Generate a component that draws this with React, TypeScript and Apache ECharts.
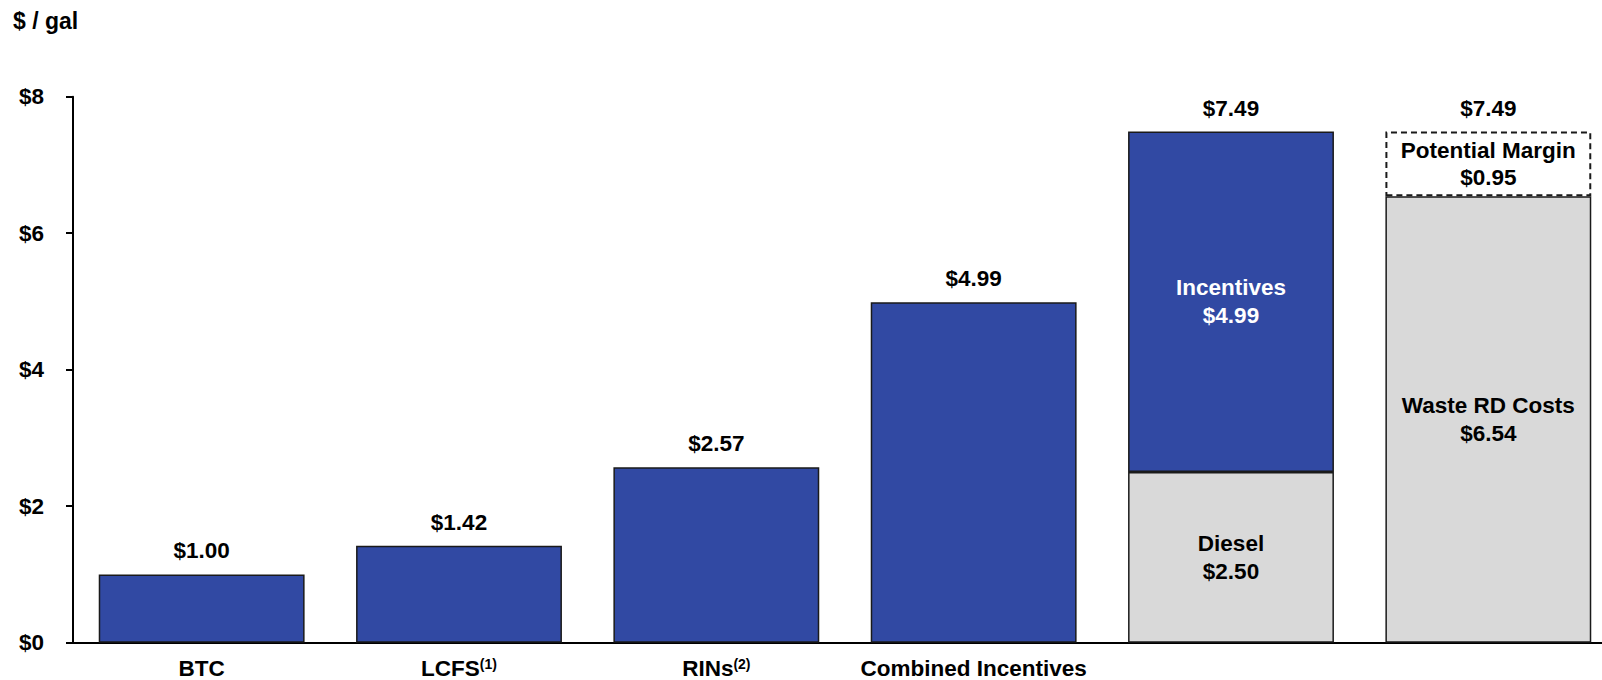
import React, { useEffect, useRef } from "react";
import * as echarts from "echarts";

const categories = ["BTC", "LCFS", "RINs", "Combined Incentives", "", ""];
const footnotes = ["", "(1)", "(2)", "", "", ""];
const baseValues: (number | null)[] = [null, null, null, null, 2.5, 6.54];
const baseNames = ["", "", "", "", "Diesel", "Waste RD Costs"];
const incentiveValues: (number | null)[] = [1.0, 1.42, 2.57, 4.99, 4.99, null];
const marginValues: (number | null)[] = [null, null, null, null, null, 0.95];
const totalValues: (number | null)[] = [null, null, null, null, 7.49, 7.49];
const yTicks = [0, 2, 4, 6, 8];

const BLUE = "#3149A3";
const GRAY = "#D9D9D9";
const FONT = "'Liberation Sans', Arial, sans-serif";
const FS = 22.5;
const fmt = (v: number) => "$" + v.toFixed(2);

export default function App() {
  const ref = useRef<HTMLDivElement>(null);
  useEffect(() => {
    if (!ref.current) return;
    const chart = echarts.init(ref.current, undefined, { renderer: "svg" });
    const border = { borderColor: "#1a1a1a", borderWidth: 1.5 };
    const textBase = { fontFamily: FONT, fontWeight: "bold" as const, fontSize: FS, color: "#000" };

    chart.setOption({
      animation: false,
      textStyle: { fontFamily: FONT },
      graphic: [
        {
          type: "text",
          left: 13,
          top: 9,
          style: { text: "$ / gal", fill: "#000", font: `bold 23px ${FONT}` },
        },
      ],
      grid: {
        left: 73,
        width: 1544,
        top: 96.7,
        bottom: 37.3,
        containLabel: false,
        outerBoundsMode: "none",
      },
      xAxis: {
        type: "category",
        data: categories,
        axisLine: { show: true, lineStyle: { color: "#000", width: 2 } },
        axisTick: { show: false },
        axisLabel: {
          interval: 0,
          margin: 14,
          formatter: (v: string, i: number) =>
            footnotes[i] ? `{b|${v}}{s|${footnotes[i]}}` : `{b|${v}}`,
          rich: {
            b: { ...textBase, lineHeight: 24 },
            s: { fontFamily: FONT, fontWeight: "bold", fontSize: 14, color: "#000", verticalAlign: "top", lineHeight: 24 },
          },
        },
      },
      yAxis: {
        type: "value",
        min: 0,
        max: 8,
        interval: 2,
        splitLine: { show: false },
        axisLine: { show: true, lineStyle: { color: "#000", width: 2 } },
        axisTick: { show: true, length: 7, inside: false, lineStyle: { color: "#000", width: 2 } },
        axisLabel: {
          ...textBase,
          margin: 29,
          formatter: (v: number) => (yTicks.includes(v) ? "$" + v : ""),
        },
      },
      series: [
        {
          name: "Base",
          type: "bar",
          stack: "s",
          barWidth: "80%",
          data: baseValues.map((v, i) =>
            v == null
              ? "-"
              : {
                  value: v,
                  label: {
                    show: true,
                    position: "inside",
                    formatter: `${baseNames[i]}\n${fmt(v)}`,
                    ...textBase,
                    lineHeight: 28,
                  },
                }
          ),
          itemStyle: { color: GRAY, ...border },
        },
        {
          name: "Incentives",
          type: "bar",
          stack: "s",
          barWidth: "80%",
          data: incentiveValues.map((v, i) =>
            v == null
              ? "-"
              : baseValues[i] != null
              ? {
                  value: v,
                  label: {
                    show: true,
                    position: "inside",
                    formatter: `Incentives\n${fmt(v)}`,
                    ...textBase,
                    color: "#fff",
                    lineHeight: 28,
                  },
                }
              : {
                  value: v,
                  label: {
                    show: true,
                    position: "top",
                    distance: 12,
                    formatter: fmt(v),
                    ...textBase,
                  },
                }
          ),
          itemStyle: { color: BLUE, ...border },
        },
        {
          name: "Potential Margin",
          type: "bar",
          stack: "s",
          barWidth: "80%",
          data: marginValues.map((v) =>
            v == null
              ? "-"
              : {
                  value: v,
                  label: {
                    show: true,
                    position: "inside",
                    formatter: `Potential Margin\n${fmt(v)}`,
                    ...textBase,
                    lineHeight: 27,
                  },
                }
          ),
          itemStyle: {
            color: "#fff",
            borderColor: "#1a1a1a",
            borderWidth: 2,
            borderType: [6, 4],
          },
        },
        {
          name: "Total",
          type: "scatter",
          symbolSize: 0,
          itemStyle: { opacity: 1 },
          data: totalValues.map((v) => (v == null ? "-" : v)),
          label: {
            show: true,
            position: "top",
            distance: 12,
            opacity: 1,
            formatter: (p: any) => fmt(p.value),
            ...textBase,
          },
          silent: true,
        },
      ],
    });
    return () => chart.dispose();
  }, []);
  return (
    <div
      ref={ref}
      style={{ position: "absolute", left: 0, top: 0, width: 1602, height: 680 }}
    />
  );
}
